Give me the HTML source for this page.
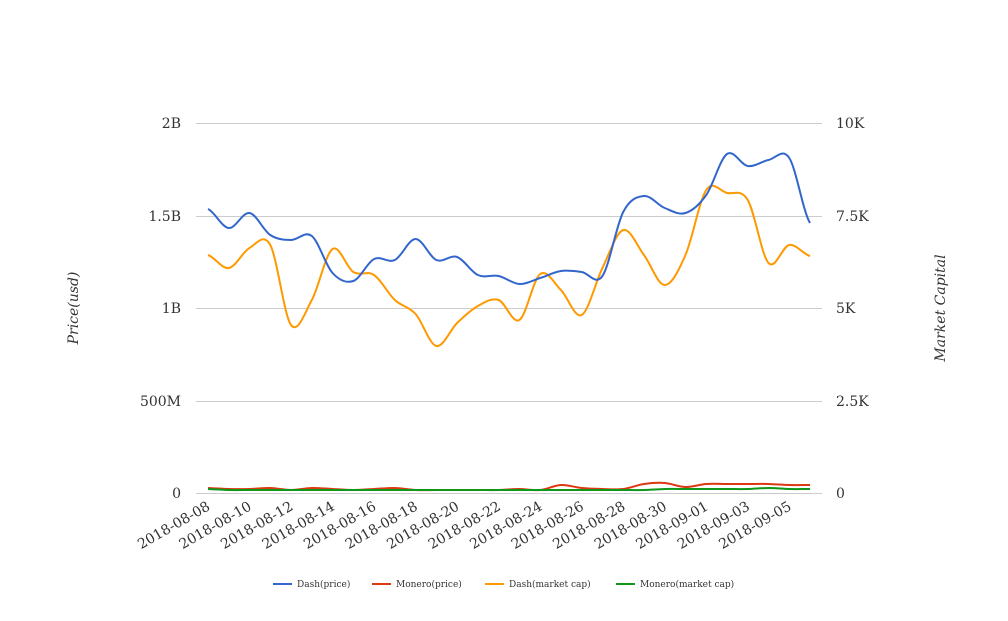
<!DOCTYPE html>
<html><head><meta charset="utf-8"><style>
html,body{margin:0;padding:0;background:#fff;}
svg text{font-family:"DejaVu Serif","Liberation Serif",serif;fill:#333;}
</style></head><body>
<svg id="c" width="1008" height="616" viewBox="0 0 1008 616" xmlns="http://www.w3.org/2000/svg">
<g stroke="#ccc" stroke-width="1">
<line x1="196" y1="123.5" x2="822" y2="123.5"/>
<line x1="196" y1="216.5" x2="822" y2="216.5"/>
<line x1="196" y1="308.5" x2="822" y2="308.5"/>
<line x1="196" y1="401.5" x2="822" y2="401.5"/>
<line x1="196" y1="493.5" x2="822" y2="493.5"/>
</g>
<g font-size="14" text-anchor="end">
<text x="181" y="128">2B</text>
<text x="181" y="221">1.5B</text>
<text x="181" y="313">1B</text>
<text x="181" y="406">500M</text>
<text x="181" y="498">0</text>
</g>
<g font-size="14" text-anchor="start">
<text x="836" y="128">10K</text>
<text x="836" y="221">7.5K</text>
<text x="836" y="313">5K</text>
<text x="836" y="406">2.5K</text>
<text x="836" y="498">0</text>
</g>
<text font-size="14" font-style="italic" text-anchor="middle" transform="translate(78,308) rotate(-90)">Price(usd)</text>
<text font-size="14" font-style="italic" text-anchor="middle" transform="translate(945,308) rotate(-90)">Market Capital</text>
<g id="xl" font-size="14" text-anchor="end"></g>
<g id="lines" fill="none" stroke-width="2"></g>
<g font-size="9">
<line x1="273" y1="584" x2="292" y2="584" stroke="#3366cc" stroke-width="2"/><text x="297" y="587">Dash(price)</text>
<line x1="372" y1="584" x2="391" y2="584" stroke="#dc3912" stroke-width="2"/><text x="396" y="587">Monero(price)</text>
<line x1="485" y1="584" x2="504" y2="584" stroke="#ff9900" stroke-width="2"/><text x="509" y="587">Dash(market cap)</text>
<line x1="616" y1="584" x2="635" y2="584" stroke="#109618" stroke-width="2"/><text x="640" y="587">Monero(market cap)</text>
</g>
</svg>
<script>
var NS="http://www.w3.org/2000/svg";
function X(i){return 208+i*20.76;}
var xl=document.getElementById('xl');
var d=new Date(Date.UTC(2018,7,8));
for(var i=0;i<30;i+=2){
 var dt=new Date(d.getTime()+i*864e5);
 var s=dt.getUTCFullYear()+"-"+String(dt.getUTCMonth()+1).padStart(2,"0")+"-"+String(dt.getUTCDate()).padStart(2,"0");
 var t=document.createElementNS(NS,"text");
 t.setAttribute("transform","translate("+(X(i)+3)+",509) rotate(-30)");
 t.textContent=s;xl.appendChild(t);
}
var series=[
["#ff9900",[255,268,248,245,325,300,249,272,275,300,314,346,323,306,300,320,274,290,315,268,230,255,285,255,190,193,200,263,245,256]],
["#3366cc",[209,228,213,235,240,236,273,281,259,260,239,260,257,275,276,284,278,271,272,276,212,196,208,213,195,154,166,160,158,223]],
["#dc3912",[488,489,489,488,490,488,489,490,489,488,490,490,490,490,490,489,490,485,488,489,489,484,483,487,484,484,484,484,485,485]],
["#109618",[489,490,490,490,490,490,490,490,490,490,490,490,490,490,490,490,490,490,490,490,490,490,489,489,489,489,489,488,489,489]]
];
var g=document.getElementById('lines');
series.forEach(function(s){
 var y=s[1],n=y.length,p="M"+X(0)+","+y[0];
 for(var i=0;i<n-1;i++){
  var y0=y[Math.max(i-1,0)],y3=y[Math.min(i+2,n-1)];
  var x1=X(i),x2=X(i+1);
  p+=" C"+(x1+20.76/3)+","+(y[i]+(y[i+1]-y0)/6)+" "+(x2-20.76/3)+","+(y[i+1]-(y3-y[i])/6)+" "+x2+","+y[i+1];
 }
 var e=document.createElementNS(NS,"path");
 e.setAttribute("d",p);e.setAttribute("stroke",s[0]);g.appendChild(e);
});
</script>
</body></html>
